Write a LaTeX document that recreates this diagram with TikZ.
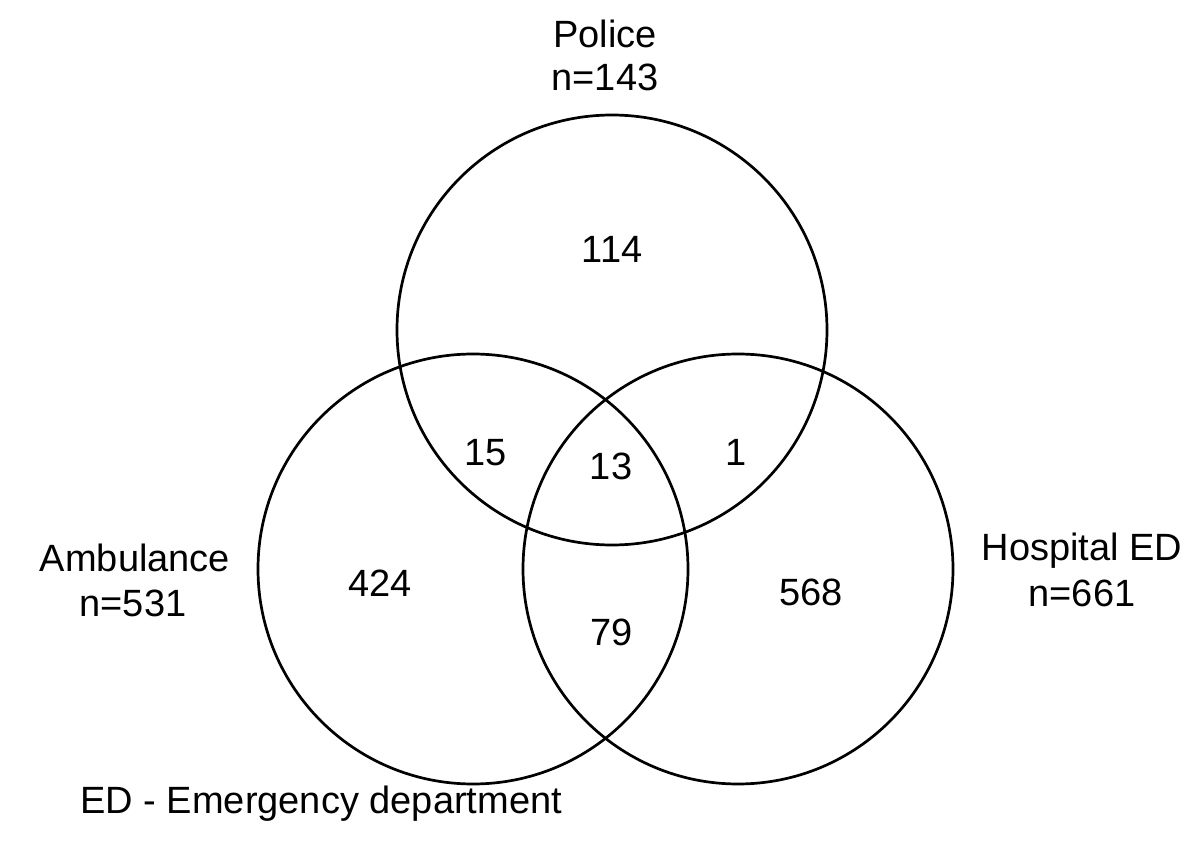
\documentclass[tikz,border=0pt]{standalone}
\usepackage{fontspec}
\setmainfont{Liberation Sans}
\begin{document}
\begin{tikzpicture}[x=0.5pt,y=-0.5pt,
  setcircle/.style={draw=black,line width=1.35pt},
  lbl/.style={inner sep=0pt,anchor=base,font=\fontsize{19}{22}\selectfont}]
\useasboundingbox (0,0) rectangle (1200,861);
\fill[white] (0,0) rectangle (1200,861);
\draw[setcircle] (612,330) circle[radius=215];
\draw[setcircle] (473,569) circle[radius=215];
\draw[setcircle] (738,569) circle[radius=215];
\node[lbl] (police) at (605,48) {Police};
\node[lbl] (policen) at (605,91) {n=143};
\node[lbl] (amb) at (135,571) {Ambulance};
\node[lbl] (ambn) at (133,616) {n=531};
\node[lbl] (hosp) at (1082,560) {Hospital ED};
\node[lbl] (hospn) at (1082,606) {n=661};
\node[lbl] (r114) at (612,263) {114};
\node[lbl] (r15) at (486,466) {15};
\node[lbl] (r13) at (611,479) {13};
\node[lbl] (r1) at (736,466) {1};
\node[lbl] (r424) at (380,596) {424};
\node[lbl] (r79) at (612,645) {79};
\node[lbl] (r568) at (811,605) {568};
\node[lbl,anchor=base west] (note) at (80,813) {ED - Emergency department};
\end{tikzpicture}
\end{document}
